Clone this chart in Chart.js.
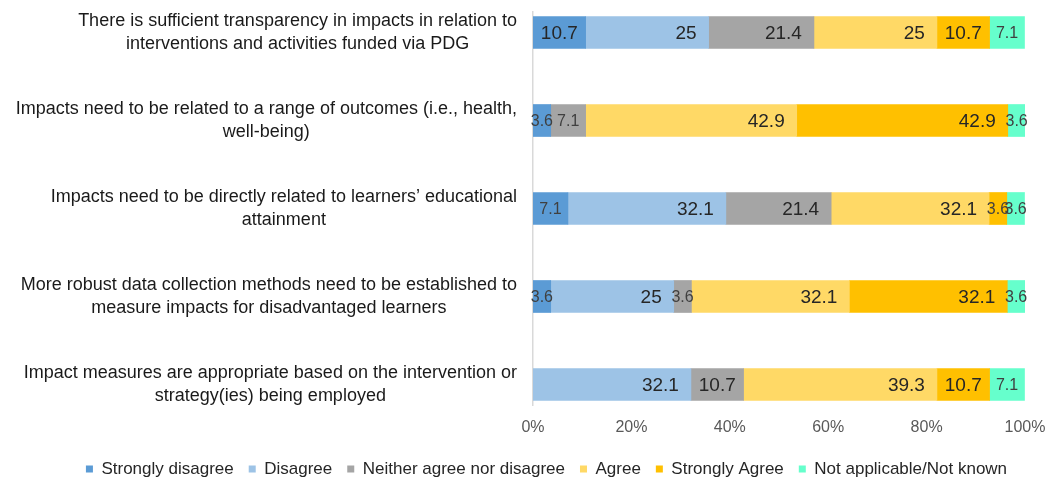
<!DOCTYPE html>
<html>
<head>
<meta charset="utf-8">
<script src="https://cdn.jsdelivr.net/npm/chart.js@4.4.0/dist/chart.umd.min.js"></script>
<style>
html,body{margin:0;padding:0;background:#fff;}
#wrap{width:1048px;height:481px;position:relative;}
</style>
</head>
<body>
<div id="wrap"><canvas id="myChart"></canvas></div>
<script>
var statements = [
  ["There is sufficient transparency in impacts in relation to", "interventions and activities funded via PDG"],
  ["Impacts need to be related to a range of outcomes (i.e., health,", "well-being)"],
  ["Impacts need to be directly related to learners\u2019 educational", "attainment"],
  ["More robust data collection methods need to be established to", "measure impacts for disadvantaged learners"],
  ["Impact measures are appropriate based on the intervention or", "strategy(ies) being employed"]
];
var seriesNames = ["Strongly disagree", "Disagree", "Neither agree nor disagree", "Agree", "Strongly Agree", "Not applicable/Not known"];
var barColors = ["#5B9BD5", "#9DC3E6", "#A5A5A5", "#FFD966", "#FFC000", "#66FFCC"];

var stronglyDisagree = [10.7, 3.6, 7.1, 3.6, null];
var disagree = [25, null, 32.1, 25, 32.1];
var neither = [21.4, 7.1, 21.4, 3.6, 10.7];
var agree = [25, 42.9, 32.1, 32.1, 39.3];
var stronglyAgree = [10.7, 42.9, 3.6, 32.1, 10.7];
var notKnown = [7.1, 3.6, 3.6, 3.6, 7.1];
var xTicks = [0, 20, 40, 60, 80, 100];

var allSeries = [stronglyDisagree, disagree, neither, agree, stronglyAgree, notKnown];

// category index i on a linear y axis so the rows can sit inside the axis line like in Excel
var datasets = allSeries.map(function (vals, i) {
  return {
    label: seriesNames[i],
    data: vals.map(function (v, j) { return { x: v, y: j }; }),
    backgroundColor: barColors[i],
    borderWidth: 0,
    barThickness: 32
  };
});

// value labels on the segments
var barValues = {
  id: "barValues",
  afterDatasetsDraw: function (chart) {
    var ctx = chart.ctx;
    ctx.save();
    ctx.textBaseline = "middle";
    chart.data.datasets.forEach(function (ds, di) {
      var meta = chart.getDatasetMeta(di);
      meta.data.forEach(function (bar, j) {
        var v = ds.data[j].x;
        if (v == null || v === 0) return;
        var p = bar.getProps(["x", "base", "y"], true);
        var small = v < 8;
        ctx.font = (small ? "16px" : "19px") + " 'Liberation Sans', Arial, sans-serif";
        ctx.fillStyle = small ? "#404040" : "#262626";
        var txt = String(v);
        var w = ctx.measureText(txt).width;
        var segW = p.x - p.base;
        var pad = 12;
        if (w + 2 * pad > segW) {
          ctx.textAlign = "center";
          ctx.fillText(txt, (p.x + p.base) / 2, p.y + 1);
        } else {
          ctx.textAlign = "right";
          ctx.fillText(txt, p.x - pad, p.y + 1);
        }
      });
    });
    ctx.restore();
  }
};

// two-line category labels, right edge against the axis, lines centred on each other
var catLabels = {
  id: "catLabels",
  afterDraw: function (chart) {
    var ctx = chart.ctx;
    var ys = chart.scales.y;
    ctx.save();
    ctx.font = "18px 'Liberation Sans', Arial, sans-serif";
    ctx.fillStyle = "#1a1a1a";
    ctx.textBaseline = "middle";
    ctx.textAlign = "center";
    statements.forEach(function (lines, i) {
      var cy = ys.getPixelForValue(i);
      var maxW = 0;
      lines.forEach(function (l) { maxW = Math.max(maxW, ctx.measureText(l).width); });
      var cx = 517 - maxW / 2;
      var lh = 23;
      var y0 = cy - (lines.length - 1) * lh / 2;
      lines.forEach(function (l, k) {
        ctx.fillText(l, cx, y0 + k * lh);
      });
    });
    ctx.restore();
  }
};

new Chart("myChart", {
  type: "bar",
  data: {
    datasets: datasets
  },
  plugins: [barValues, catLabels],
  options: {
    indexAxis: "y",
    responsive: true,
    maintainAspectRatio: false,
    animation: false,
    layout: { padding: { top: 12, left: 68, right: 23, bottom: -6.5 } },
    plugins: {
      legend: {
        display: true,
        position: "bottom",
        labels: {
          boxWidth: 7,
          boxHeight: 7,
          padding: 15,
          color: "#262626",
          font: { family: "'Liberation Sans', Arial, sans-serif", size: 17 }
        }
      },
      title: { display: false },
      tooltip: { enabled: false }
    },
    scales: {
      x: {
        type: "linear",
        stacked: true,
        min: 0,
        max: 100,
        grid: { display: false, drawTicks: false },
        border: { display: false },
        afterFit: function (s) {
          s.height = 40.5;
          s.paddingLeft = 0;
          s.paddingRight = 0;
        },
        afterBuildTicks: function (s) {
          s.ticks = xTicks.map(function (v) { return { value: v }; });
        },
        ticks: {
          padding: 13,
          color: "#595959",
          maxRotation: 0,
          autoSkip: false,
          font: { family: "'Liberation Sans', Arial, sans-serif", size: 16 },
          callback: function (v) { return v + "%"; }
        }
      },
      y: {
        type: "linear",
        stacked: true,
        reverse: true,
        offset: false,
        min: -0.233,
        max: 4.233,
        grid: { display: false, drawTicks: false },
        border: { display: true, color: "#D9D9D9", width: 1.5 },
        ticks: { display: false },
        afterFit: function (s) { s.width = 465; }
      }
    }
  }
});
</script>
</body>
</html>
